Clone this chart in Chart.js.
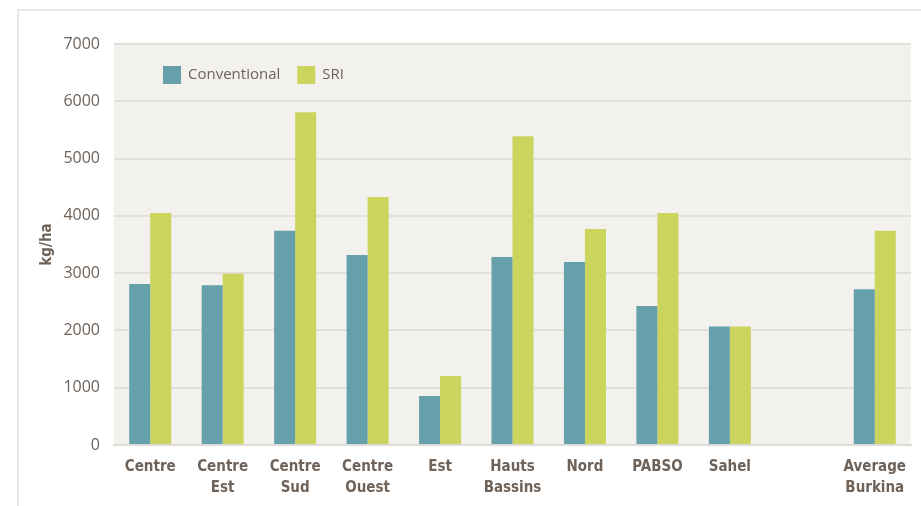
<!DOCTYPE html>
<html>
<head>
<meta charset="utf-8">
<script src="https://cdn.jsdelivr.net/npm/chart.js@4.4.1/dist/chart.umd.min.js"></script>
<style>
  html, body { margin: 0; padding: 0; background: #ffffff; }
  #card { position: absolute; left: 17px; top: 9px; width: 960px; height: 560px;
          border-left: 2px solid #e8e8e6; border-top: 2px solid #e8e8e6; }
  #wrap { position: absolute; left: 0; top: 0; width: 921px; height: 506px; }
</style>
</head>
<body>
<div id="card"></div>
<div id="wrap"><canvas id="c" width="921" height="506"></canvas></div>
<script>
const categories = [["Centre"], ["Centre", "Est"], ["Centre", "Sud"], ["Centre", "Ouest"], ["Est"], ["Hauts", "Bassins"], ["Nord"], ["PABSO"], ["Sahel"], [""], ["Average", "Burkina"]];
const conventional = [2810, 2790, 3740, 3315, 855, 3280, 3195, 2425, 2068, null, 2720];
const sri = [4050, 2990, 5810, 4330, 1205, 5390, 3770, 4050, 2068, null, 3740];
const yTicks = [0, 1000, 2000, 3000, 4000, 5000, 6000, 7000];

const textColor = '#6e6259';
const teal = '#65a0ab';
const green = '#cbd55e';
const condensed = '"Liberation Sans Narrow", "DejaVu Sans Condensed", "Roboto", sans-serif';

const bgPlugin = {
  id: 'plotBg',
  beforeDraw(chart) {
    const {ctx, chartArea: a} = chart;
    ctx.save();
    ctx.fillStyle = '#f2f1ed';
    ctx.fillRect(a.left, a.top, a.right - a.left, a.bottom - a.top);
    ctx.restore();
  }
};

const legendPlugin = {
  id: 'innerLegend',
  afterDatasetsDraw(chart) {
    const {ctx, chartArea: a} = chart;
    ctx.save();
    ctx.font = '15px "Open Sans", "Liberation Sans", sans-serif';
    ctx.textBaseline = 'middle';
    let x = a.left + 49;
    const y = a.top + 31;
    chart.data.datasets.forEach(ds => {
      ctx.fillStyle = ds.backgroundColor;
      ctx.fillRect(x, y - 9, 18, 18);
      ctx.fillStyle = textColor;
      ctx.fillText(ds.label, x + 25, y);
      x += 25 + ctx.measureText(ds.label).width + 17;
    });
    ctx.restore();
  }
};

new Chart(document.getElementById('c'), {
  type: 'bar',
  data: {
    labels: categories,
    datasets: [
      { label: 'Conventional', data: conventional, backgroundColor: teal, borderWidth: 0 },
      { label: 'SRI', data: sri, backgroundColor: green, borderWidth: 0 }
    ]
  },
  options: {
    responsive: false,
    animation: false,
    devicePixelRatio: 1,
    layout: { padding: { left: 0, right: 10, top: 44, bottom: 0 } },
    plugins: { legend: { display: false }, tooltip: { enabled: false } },
    datasets: { bar: { categoryPercentage: 0.58, barPercentage: 1.0 } },
    scales: {
      x: {
        grid: { display: false, drawTicks: false },
        border: { display: true, color: '#dedcd7', width: 2 },
        ticks: {
          color: textColor,
          padding: 12,
          maxRotation: 0,
          autoSkip: false,
          font: { family: condensed, weight: 'bold', size: 15, lineHeight: 1.4 }
        },
        afterFit(s) { s.height = 61; }
      },
      y: {
        min: 0, max: 7000,
        afterBuildTicks(s) { s.ticks = yTicks.map(v => ({ value: v })); },
        grid: { color: '#e2e0db', lineWidth: 2, drawTicks: false },
        border: { display: false },
        ticks: {
          color: textColor,
          padding: 14,
          font: { family: '"Open Sans", "Liberation Sans", sans-serif', size: 16 },
          callback: v => String(v)
        },
        title: {
          display: true, text: 'kg/ha', color: textColor,
          font: { family: condensed, weight: 'bold', size: 15 },
          padding: { top: 38, bottom: 4 }
        },
        afterFit(s) { s.width = 114; }
      }
    }
  },
  plugins: [bgPlugin, legendPlugin]
});
</script>
</body>
</html>
